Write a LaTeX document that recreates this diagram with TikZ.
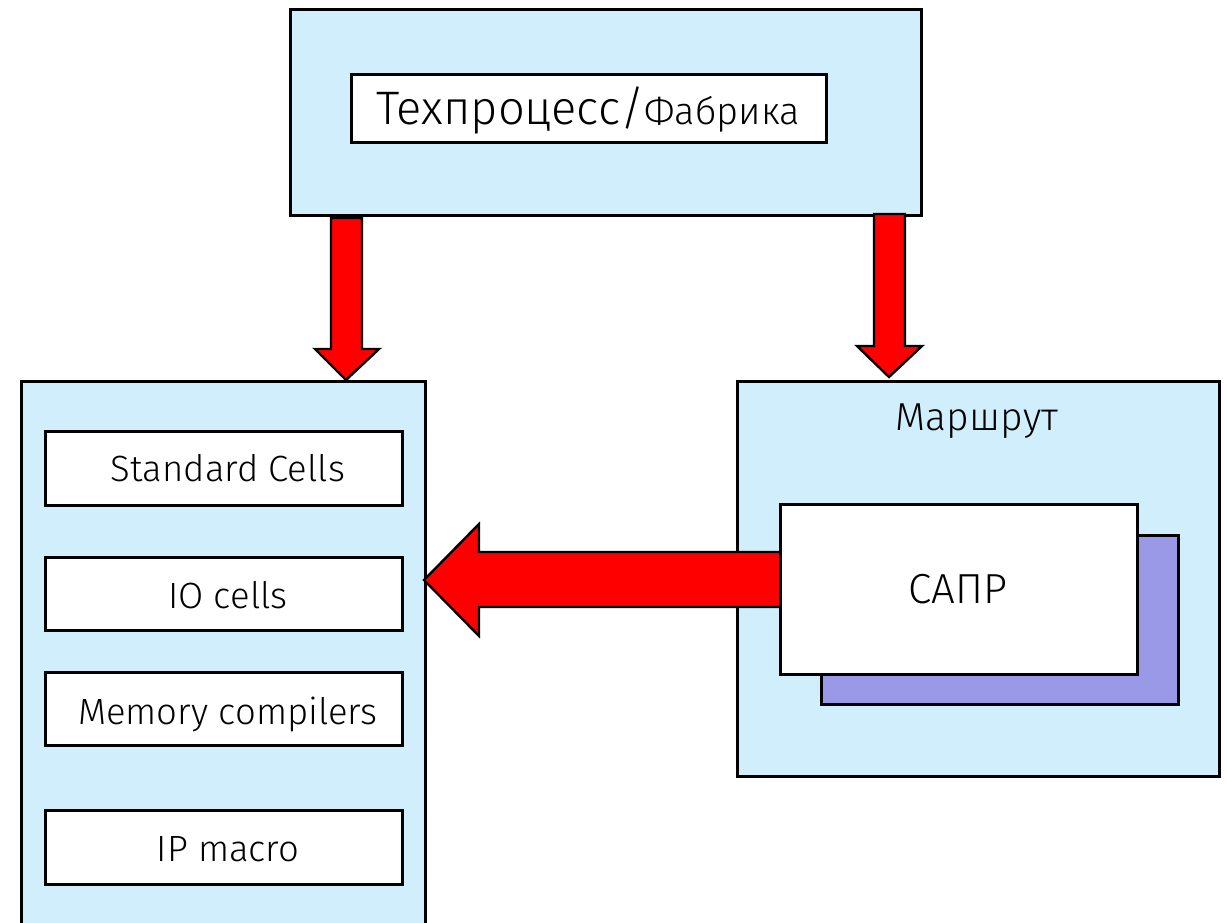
\documentclass[tikz,border=0pt]{standalone}
\usepackage{fontspec}
\setmainfont{Fira Sans Light}
\definecolor{panelblue}{HTML}{D0EEFB}
\definecolor{shadowblue}{HTML}{9999E8}
\definecolor{arrowred}{HTML}{FF0000}
\begin{document}
\begin{tikzpicture}[x=1pt,y=-1pt,
  panel/.style={draw=black,line width=2.6pt,fill=panelblue,inner sep=0pt,anchor=north west},
  labelbox/.style={draw=black,line width=2.6pt,fill=white,inner sep=0pt,anchor=north west},
  shadowbox/.style={draw=black,line width=2.6pt,fill=shadowblue,inner sep=0pt,anchor=north west},
  blockarrow/.style={draw=black,line width=2.4pt,fill=arrowred,line join=miter},
  txt/.style={inner sep=0pt,anchor=base,font=\fontsize{36.5}{40}\selectfont}]
\useasboundingbox (0,0) rectangle (1227,923);
\fill[white] (0,0) rectangle (1227,923);
\begin{scope}
\clip (0,0) rectangle (1227,923);
% top panel
\node[panel,minimum width=631pt,minimum height=206pt] (top) at (289,8) {};
\node[labelbox,minimum width=475pt,minimum height=68pt] (tech) at (350,73) {};
\node[txt] (techtxt) at (588,125) {\fontsize{47}{50}\selectfont Техпроцесс/\fontsize{38}{40}\selectfont Фабрика};
% left panel
\node[panel,minimum width=404pt,minimum height=600pt] (lib) at (20,380) {};
\node[labelbox,minimum width=357pt,minimum height=74pt] (sc) at (44,430) {};
\node[labelbox,minimum width=357pt,minimum height=73pt] (io) at (44,556) {};
\node[labelbox,minimum width=357pt,minimum height=73pt] (mem) at (44,671) {};
\node[labelbox,minimum width=357pt,minimum height=74pt] (ip) at (44,809) {};
\node[txt] at (228,481) {Standard Cells};
\node[txt] at (228,608) {IO cells};
\node[txt] at (228,724) {Memory compilers};
\node[txt] at (228,861) {IP macro};
% right panel
\node[panel,minimum width=482pt,minimum height=395pt] (route) at (736,380) {};
\node[txt,font=\fontsize{39}{42}\selectfont] at (977,430) {Маршрут};
\node[shadowbox,minimum width=357pt,minimum height=169pt] (shadow) at (820,534) {};
% horizontal arrow (shaft passes under the CAD box)
\coordinate (hl) at (424,580);
\draw[blockarrow] (779,552) -- (479,552) -- (479,524) -- (hl) -- (479,636) -- (479,607) -- (779,607);
\node[labelbox,minimum width=357pt,minimum height=170pt] (cad) at (779,503) {};
\node[txt,font=\fontsize{42}{45}\selectfont] at (958,603) {САПР};
% vertical arrows
\coordinate (la) at (346,380);
\coordinate (ra) at (889,377);
\draw[blockarrow] (331,218) -- (362,218) -- (362,349) -- (379,349) -- (la) -- (315,349) -- (331,349) -- cycle;
\draw[blockarrow] (874,214) -- (905,214) -- (905,346) -- (922,346) -- (ra) -- (857,346) -- (874,346) -- cycle;
\end{scope}
\end{tikzpicture}
\end{document}
